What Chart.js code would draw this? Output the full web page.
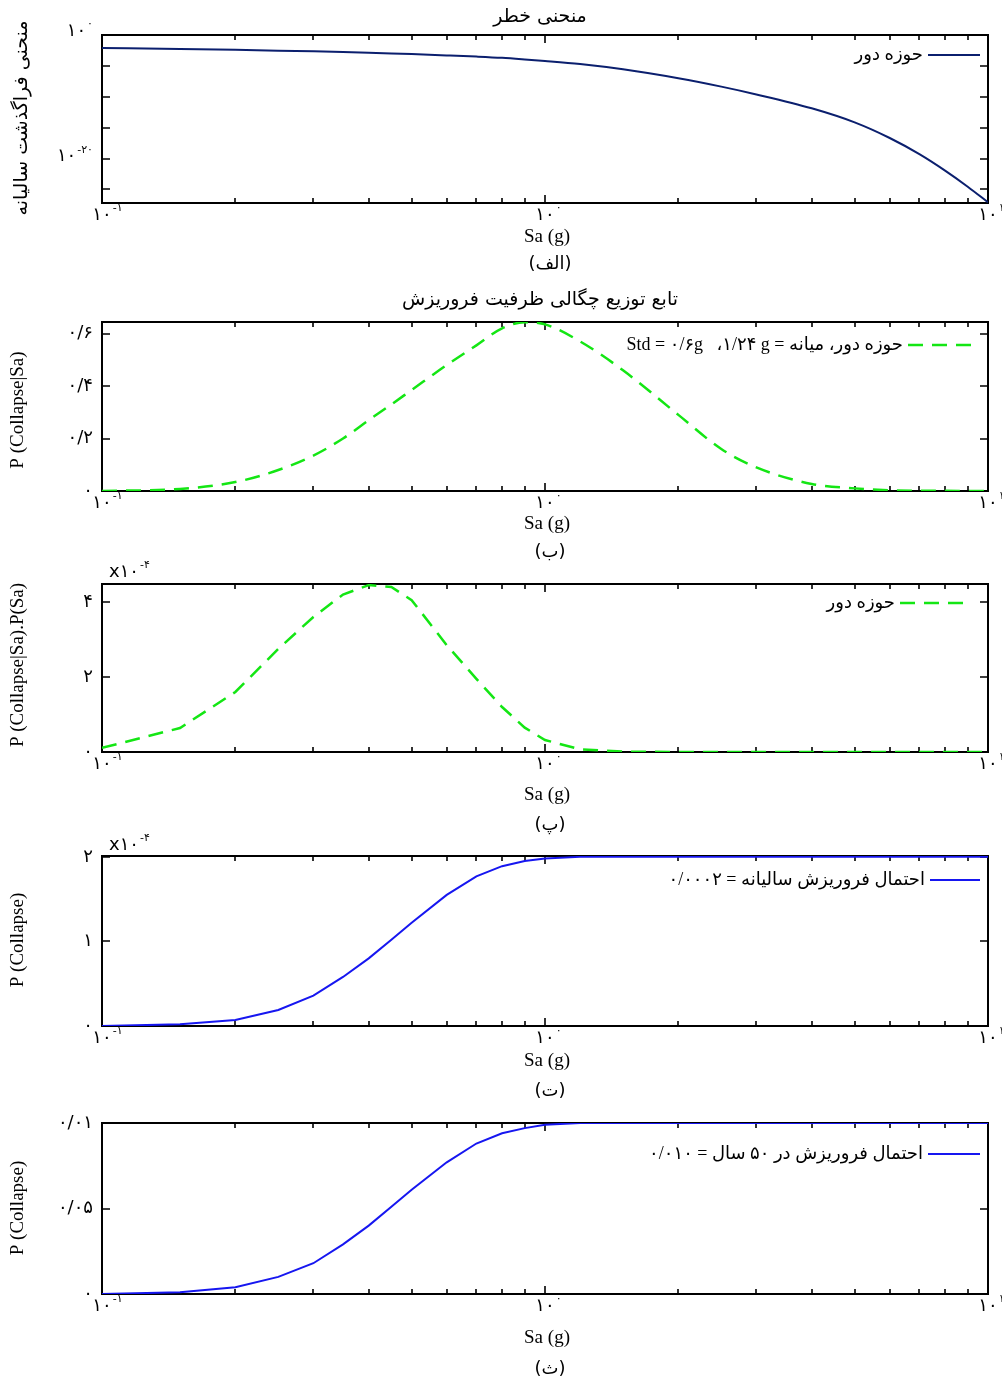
<!DOCTYPE html>
<html lang="fa">
<head>
<meta charset="utf-8">
<title>منحنی خطر و احتمال فروریزش</title>
<script src="https://cdn.jsdelivr.net/npm/chart.js@4.4.1/dist/chart.umd.min.js"></script>
<style>
  html, body { margin: 0; padding: 0; background: #fff; }
  #page { position: relative; width: 1002px; height: 1380px; overflow: hidden; }
  canvas { position: absolute; left: 0; }
</style>
</head>
<body>
<div id="page">
  <canvas id="hazard" width="1002" height="300" style="top:0px"></canvas>
  <canvas id="capacity" width="1002" height="300" style="top:280px"></canvas>
  <canvas id="density" width="1002" height="300" style="top:560px"></canvas>
  <canvas id="annual" width="1002" height="300" style="top:830px"></canvas>
  <canvas id="fifty" width="1002" height="300" style="top:1100px"></canvas>
</div>
<script>
const CANVAS_H = 300;

// Sa (g) sample points shared by every panel
const saValues = [0.1, 0.15, 0.2, 0.25, 0.3, 0.35, 0.4, 0.45, 0.5, 0.6, 0.7, 0.8, 0.9, 1.0,
  1.2, 1.5, 2, 2.5, 3, 4, 5, 6, 7, 8, 9, 10];

// (الف) annual frequency of exceedance
const hazardValues = [7.9e-3, 5.5e-3, 4.0e-3, 2.95e-3, 2.24e-3, 1.74e-3, 1.35e-3, 1.05e-3, 8.1e-4,
  5.0e-4, 3.2e-4, 2.0e-4, 1.12e-4, 6.3e-5, 2.0e-5, 2.8e-6, 1.0e-7, 4.4e-9, 2.4e-10, 1.35e-12,
  7.1e-15, 2.1e-17, 5.1e-20, 1.1e-22, 2.75e-25, 8.1e-28];

// (ب) P(Collapse|Sa)
const capacityValues = [0, 0.008, 0.034, 0.08, 0.135, 0.2, 0.27, 0.33, 0.385, 0.48, 0.555,
  0.62, 0.643, 0.635, 0.57, 0.46, 0.29, 0.16, 0.09, 0.027, 0.01, 0.003, 0.001, 0.0005, 0.0002, 0.0001];

// (پ) P(Collapse|Sa).P(Sa), in units of 1e-4
const densityE4 = [0.11, 0.64, 1.6, 2.75, 3.6, 4.2, 4.45, 4.4, 4.05, 2.85, 1.95, 1.2, 0.65,
  0.32, 0.07, 0.01, 0, 0, 0, 0, 0, 0, 0, 0, 0, 0];

// (ت) annual collapse probability, in units of 1e-4
const annualE4 = [0, 0.02, 0.07, 0.19, 0.36, 0.58, 0.80, 1.02, 1.22, 1.55, 1.77, 1.89, 1.95,
  1.98, 2.0, 2.0, 2.0, 2.0, 2.0, 2.0, 2.0, 2.0, 2.0, 2.0, 2.0, 2.0];

// (ث) collapse probability in 50 years
const fiftyYearValues = [0, 0.0001, 0.0004, 0.001, 0.0018, 0.0029, 0.004, 0.0051, 0.0061,
  0.0077, 0.0088, 0.0094, 0.0097, 0.0099, 0.01, 0.01, 0.01, 0.01, 0.01, 0.01, 0.01, 0.01,
  0.01, 0.01, 0.01, 0.01];

// x axis ticks
const xTicks = [0.1, 0.2, 0.3, 0.4, 0.5, 0.6, 0.7, 0.8, 0.9, 1, 2, 3, 4, 5, 6, 7, 8, 9, 10];
const xMajorTicks = [0.1, 1, 10];
const xTickLabels = [["۱۰", "-۱"], ["۱۰", "۰"], ["۱۰", "۱"]];

// y axis ticks (labels: [base, exponent] or plain string, "" = no label)
const hazardTicks = [1, 1e-5, 1e-10, 1e-15, 1e-20, 1e-25];
const hazardTickLabels = [["۱۰", "۰"], "", "", "", ["۱۰", "-۲۰"], ""];
const capacityTicks = [0, 0.2, 0.4, 0.6];
const capacityTickLabels = ["۰", "۰/۲", "۰/۴", "۰/۶"];
const densityTicks = [0, 2, 4];
const densityTickLabels = ["۰", "۲", "۴"];
const annualTicks = [0, 1, 2];
const annualTickLabels = ["۰", "۱", "۲"];
const fiftyTicks = [0, 0.005, 0.01];
const fiftyTickLabels = ["۰", "۰/۰۵", "۰/۰۱"];

const FONT = "'Liberation Serif', 'DejaVu Sans', serif";
const FA_FONT = "'DejaVu Sans', 'Liberation Serif', sans-serif";

function points(values) {
  return saValues.map(function(s, i) { return { x: s, y: values[i] }; });
}

function drawPower(ctx, base, exp, x, y, size, align) {
  ctx.font = size + "px " + FA_FONT;
  const bw = ctx.measureText(base).width;
  const small = Math.round(size * 0.62);
  ctx.font = small + "px " + FA_FONT;
  const ew = ctx.measureText(exp).width;
  let left;
  if (align === "center") left = x - bw / 2;
  else if (align === "right") left = x - bw - ew - 1;
  else left = x;
  ctx.textAlign = "left";
  ctx.textBaseline = "middle";
  ctx.direction = "ltr";
  ctx.font = size + "px " + FA_FONT;
  ctx.fillText(base, left, y);
  ctx.font = small + "px " + FA_FONT;
  ctx.fillText(exp, left + bw + 1, y - size * 0.38);
}

function makePanelPlugin(panel) {
  return {
    id: "panel_" + panel.id,
    beforeDatasetsDraw(chart) {
      const ctx = chart.ctx;
      const a = chart.chartArea;
      const xs = chart.scales.x;
      const ys = chart.scales.y;
      ctx.save();
      ctx.strokeStyle = "#000";
      ctx.lineWidth = 1.6;
      ctx.beginPath();
      xTicks.forEach(function(v) {
        const px = Math.round(xs.getPixelForValue(v));
        const len = xMajorTicks.includes(v) ? 8 : 5;
        ctx.moveTo(px, a.bottom); ctx.lineTo(px, a.bottom - len);
        ctx.moveTo(px, a.top); ctx.lineTo(px, a.top + len);
      });
      panel.yTicks.forEach(function(v) {
        const py = Math.round(ys.getPixelForValue(v));
        ctx.moveTo(a.left, py); ctx.lineTo(a.left + 8, py);
        ctx.moveTo(a.right, py); ctx.lineTo(a.right - 8, py);
      });
      ctx.stroke();
      ctx.lineWidth = 2;
      ctx.strokeRect(a.left, a.top, a.right - a.left, a.bottom - a.top);
      ctx.restore();
    },
    afterDatasetsDraw(chart) {
      const ctx = chart.ctx;
      const a = chart.chartArea;
      const xs = chart.scales.x;
      const ys = chart.scales.y;
      ctx.save();
      ctx.fillStyle = "#000";

      // x tick labels
      xMajorTicks.forEach(function(v, i) {
        drawPower(ctx, xTickLabels[i][0], xTickLabels[i][1], xs.getPixelForValue(v), a.bottom + 12, 18, "center");
      });

      // y tick labels
      panel.yTicks.forEach(function(v, i) {
        const lab = panel.yTickLabels[i];
        if (!lab) return;
        const py = ys.getPixelForValue(v) + (panel.yLabelShift ? panel.yLabelShift[i] : 0);
        if (Array.isArray(lab)) {
          drawPower(ctx, lab[0], lab[1], 93, py, 18, "right");
        } else {
          ctx.font = "18px " + FA_FONT;
          ctx.textAlign = "right";
          ctx.textBaseline = "middle";
          ctx.direction = "ltr";
          ctx.fillText(lab, 93, py);
        }
      });

      // x10^-4 multiplier
      if (panel.multiplier) {
        drawPower(ctx, "x۱۰", "-۴", 109, panel.multiplier, 18, "left");
      }

      // title
      if (panel.title) {
        ctx.font = "19px " + FA_FONT;
        ctx.textAlign = "center";
        ctx.textBaseline = "middle";
        ctx.direction = "rtl";
        ctx.fillText(panel.title, 540, panel.titleY);
      }

      // y axis title
      ctx.save();
      ctx.translate(panel.yTitleX, panel.yTitleY);
      ctx.rotate(-Math.PI / 2);
      ctx.textAlign = "center";
      ctx.textBaseline = "middle";
      if (panel.yTitleFa) {
        ctx.font = "19px " + FA_FONT;
        ctx.direction = "rtl";
      } else {
        ctx.font = "19px " + FONT;
        ctx.direction = "ltr";
      }
      ctx.fillText(panel.yTitle, 0, 0);
      ctx.restore();

      // x axis title and caption
      ctx.font = "19px " + FONT;
      ctx.textAlign = "center";
      ctx.textBaseline = "middle";
      ctx.direction = "ltr";
      ctx.fillText("Sa (g)", 547, panel.xTitleY);
      ctx.font = "18px " + FA_FONT;
      ctx.direction = "rtl";
      ctx.fillText(panel.caption, 550, panel.captionY);

      // legend inside plot area
      const ds = chart.data.datasets[0];
      const lg = panel.legend;
      const ly = a.top + lg.dy;
      const lineEnd = a.right - lg.right;
      const lineStart = lineEnd - lg.len;
      ctx.strokeStyle = ds.borderColor;
      ctx.lineWidth = ds.borderWidth;
      ctx.setLineDash(ds.borderDash || []);
      ctx.beginPath();
      ctx.moveTo(lineStart, ly);
      ctx.lineTo(lineEnd, ly);
      ctx.stroke();
      ctx.setLineDash([]);
      ctx.font = "18px " + FONT;
      ctx.textAlign = "right";
      ctx.textBaseline = "middle";
      ctx.direction = lg.dir || "rtl";
      ctx.fillText(ds.label, lineStart - 5, ly);

      ctx.restore();
    }
  };
}

function createPanel(panel) {
  return new Chart(document.getElementById(panel.id), {
    type: "line",
    data: {
      datasets: [{
        label: panel.label,
        data: points(panel.values),
        borderColor: panel.color,
        borderWidth: panel.width,
        borderDash: panel.dash,
        pointRadius: 0,
        fill: false,
        cubicInterpolationMode: panel.smooth ? "monotone" : "default",
        tension: 0
      }]
    },
    options: {
      responsive: false,
      animation: false,
      events: [],
      layout: {
        padding: { left: 102, right: 14, top: panel.areaTop, bottom: CANVAS_H - panel.areaBottom }
      },
      scales: {
        x: { type: "logarithmic", min: 0.1, max: 10, display: false },
        y: { type: panel.yType, min: panel.yMin, max: panel.yMax, display: false }
      },
      plugins: {
        legend: { display: false },
        tooltip: { enabled: false },
        title: { display: false }
      }
    },
    plugins: [makePanelPlugin(panel)]
  });
}

createPanel({
  id: "hazard", values: hazardValues, label: "حوزه دور",
  color: "#0b1f6e", width: 2, smooth: true,
  yType: "logarithmic", yMin: Math.pow(10, -27.2), yMax: 1,
  yTicks: hazardTicks, yTickLabels: hazardTickLabels, yLabelShift: [-4, 0, 0, 0, -2, 0],
  areaTop: 35, areaBottom: 203,
  title: "منحنی خطر", titleY: 17,
  yTitle: "منحنی فراگذشت سالیانه", yTitleFa: true, yTitleX: 22, yTitleY: 118,
  xTitleY: 237, caption: "(الف)", captionY: 264,
  legend: { dy: 20, right: 8, len: 52 }
});

createPanel({
  id: "capacity", values: capacityValues,
  label: "Std = ۰/۶g   ،۱/۲۴ g = \u202Bحوزه دور، میانه\u202C",
  color: "#14e614", width: 2.5, dash: [15, 9], smooth: true,
  yType: "linear", yMin: 0, yMax: 0.644,
  yTicks: capacityTicks, yTickLabels: capacityTickLabels,
  areaTop: 42, areaBottom: 211,
  title: "تابع توزیع چگالی ظرفیت فروریزش", titleY: 20,
  yTitle: "P (Collapse|Sa)", yTitleX: 18, yTitleY: 130,
  xTitleY: 244, caption: "(ب)", captionY: 272,
  legend: { dy: 23, right: 8, len: 72, dir: "ltr" }
});

createPanel({
  id: "density", values: densityE4, label: "حوزه دور",
  color: "#14e614", width: 2.5, dash: [15, 9],
  yType: "linear", yMin: 0, yMax: 4.48,
  yTicks: densityTicks, yTickLabels: densityTickLabels,
  areaTop: 24, areaBottom: 192,
  multiplier: 12,
  yTitle: "P (Collapse|Sa).P(Sa)", yTitleX: 18, yTitleY: 105,
  xTitleY: 235, caption: "(پ)", captionY: 265,
  legend: { dy: 19, right: 16, len: 72 }
});

createPanel({
  id: "annual", values: annualE4, label: "احتمال فروریزش سالیانه = ۰/۰۰۰۲",
  color: "#1616f0", width: 2,
  yType: "linear", yMin: 0, yMax: 2.01,
  yTicks: annualTicks, yTickLabels: annualTickLabels,
  areaTop: 26, areaBottom: 196,
  multiplier: 15,
  yTitle: "P (Collapse)", yTitleX: 18, yTitleY: 110,
  xTitleY: 231, caption: "(ت)", captionY: 261,
  legend: { dy: 24, right: 8, len: 50 }
});

createPanel({
  id: "fifty", values: fiftyYearValues, label: "احتمال فروریزش در ۵۰ سال = ۰/۰۱۰",
  color: "#1616f0", width: 2,
  yType: "linear", yMin: 0, yMax: 0.01,
  yTicks: fiftyTicks, yTickLabels: fiftyTickLabels,
  areaTop: 23, areaBottom: 194,
  yTitle: "P (Collapse)", yTitleX: 18, yTitleY: 108,
  xTitleY: 238, caption: "(ث)", captionY: 269,
  legend: { dy: 31, right: 8, len: 52 }
});
</script>
</body>
</html>
